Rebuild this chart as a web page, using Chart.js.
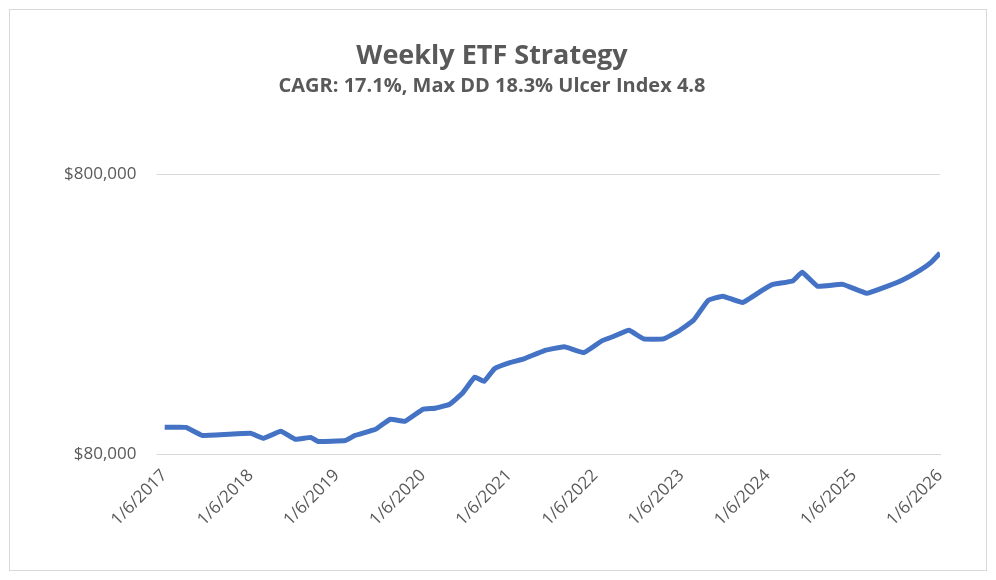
<!DOCTYPE html>
<html>
<head>
<meta charset="utf-8">
<script src="https://cdn.jsdelivr.net/npm/chart.js@4"></script>
<style>
  body { margin: 0; background: #fff; }
  #wrap { position: absolute; left: 9px; top: 9px; width: 976px; height: 560px; border: 1px solid #d9d9d9; }
</style>
</head>
<body>
<div id="wrap"><canvas id="c"></canvas></div>
<script>
// Decimal year of each point, and the equity value
const years = [2017.00, 2017.25, 2017.44, 2018.00, 2018.15, 2018.35, 2018.52, 2018.70, 2018.78, 2019.10,
  2019.21, 2019.45, 2019.62, 2019.79, 2020.00, 2020.14, 2020.31, 2020.46, 2020.60, 2020.71,
  2020.83, 2021.00, 2021.18, 2021.41, 2021.64, 2021.87, 2022.08, 2022.21, 2022.39, 2022.56,
  2022.79, 2022.96, 2023.14, 2023.31, 2023.48, 2023.71, 2023.94, 2024.06, 2024.29, 2024.40,
  2024.58, 2024.87, 2025.15, 2025.33, 2025.56, 2025.77, 2025.90, 2026.00];
const equity = [100000, 100000, 93600, 95200, 91400, 96800, 90600, 92100, 89100, 89800,
  93600, 98400, 106900, 105100, 116100, 117100, 121000, 132600, 151000, 146000,
  162000, 170000, 176000, 188000, 194000, 185000, 204000, 211000, 222000, 207000,
  207000, 220000, 241000, 284000, 294000, 279000, 309000, 324000, 333000, 358000,
  319000, 324000, 301000, 314000, 335000, 364000, 389000, 419000];
const yTicks = [80000, 800000];

const points = years.map((x, i) => ({ x: x, y: equity[i] }));

new Chart(document.getElementById('c'), {
    type: 'line',
    data: {
        datasets: [{
            data: points,
            borderColor: '#4472C4',
            borderWidth: 5,
            pointRadius: 0,
            tension: 0.1
        }]
    },
    options: {
        responsive: true,
        maintainAspectRatio: false,
        animation: false,
        layout: { padding: { left: 34, right: 46, top: 20, bottom: 37 } },
        plugins: {
            legend: { display: false },
            title: {
                display: true,
                text: 'Weekly ETF Strategy',
                color: '#595959',
                font: { family: 'Open Sans', size: 27, weight: 'bold' },
                padding: { top: 10, bottom: 2 }
            },
            subtitle: {
                display: true,
                text: 'CAGR: 17.1%, Max DD 18.3% Ulcer Index 4.8',
                color: '#595959',
                font: { family: 'Open Sans', size: 20, weight: 'bold' },
                padding: { bottom: 76 }
            }
        },
        scales: {
            x: {
                type: 'linear',
                min: 2017,
                max: 2026,
                grid: { display: false },
                border: { color: '#d9d9d9' },
                ticks: {
                    stepSize: 1,
                    maxRotation: 45,
                    minRotation: 45,
                    color: '#595959',
                    font: { family: 'Open Sans', size: 17 },
                    callback: v => '1/6/' + v
                }
            },
            y: {
                type: 'logarithmic',
                min: 80000,
                max: 800000,
                afterBuildTicks: axis => { axis.ticks = yTicks.map(v => ({ value: v })); },
                grid: { color: '#d9d9d9' },
                border: { display: false },
                ticks: {
                    color: '#595959',
                    padding: 20,
                    font: { family: 'Open Sans', size: 17 },
                    callback: v => '$' + v.toLocaleString('en-US')
                }
            }
        }
    }
});
</script>
</body>
</html>
